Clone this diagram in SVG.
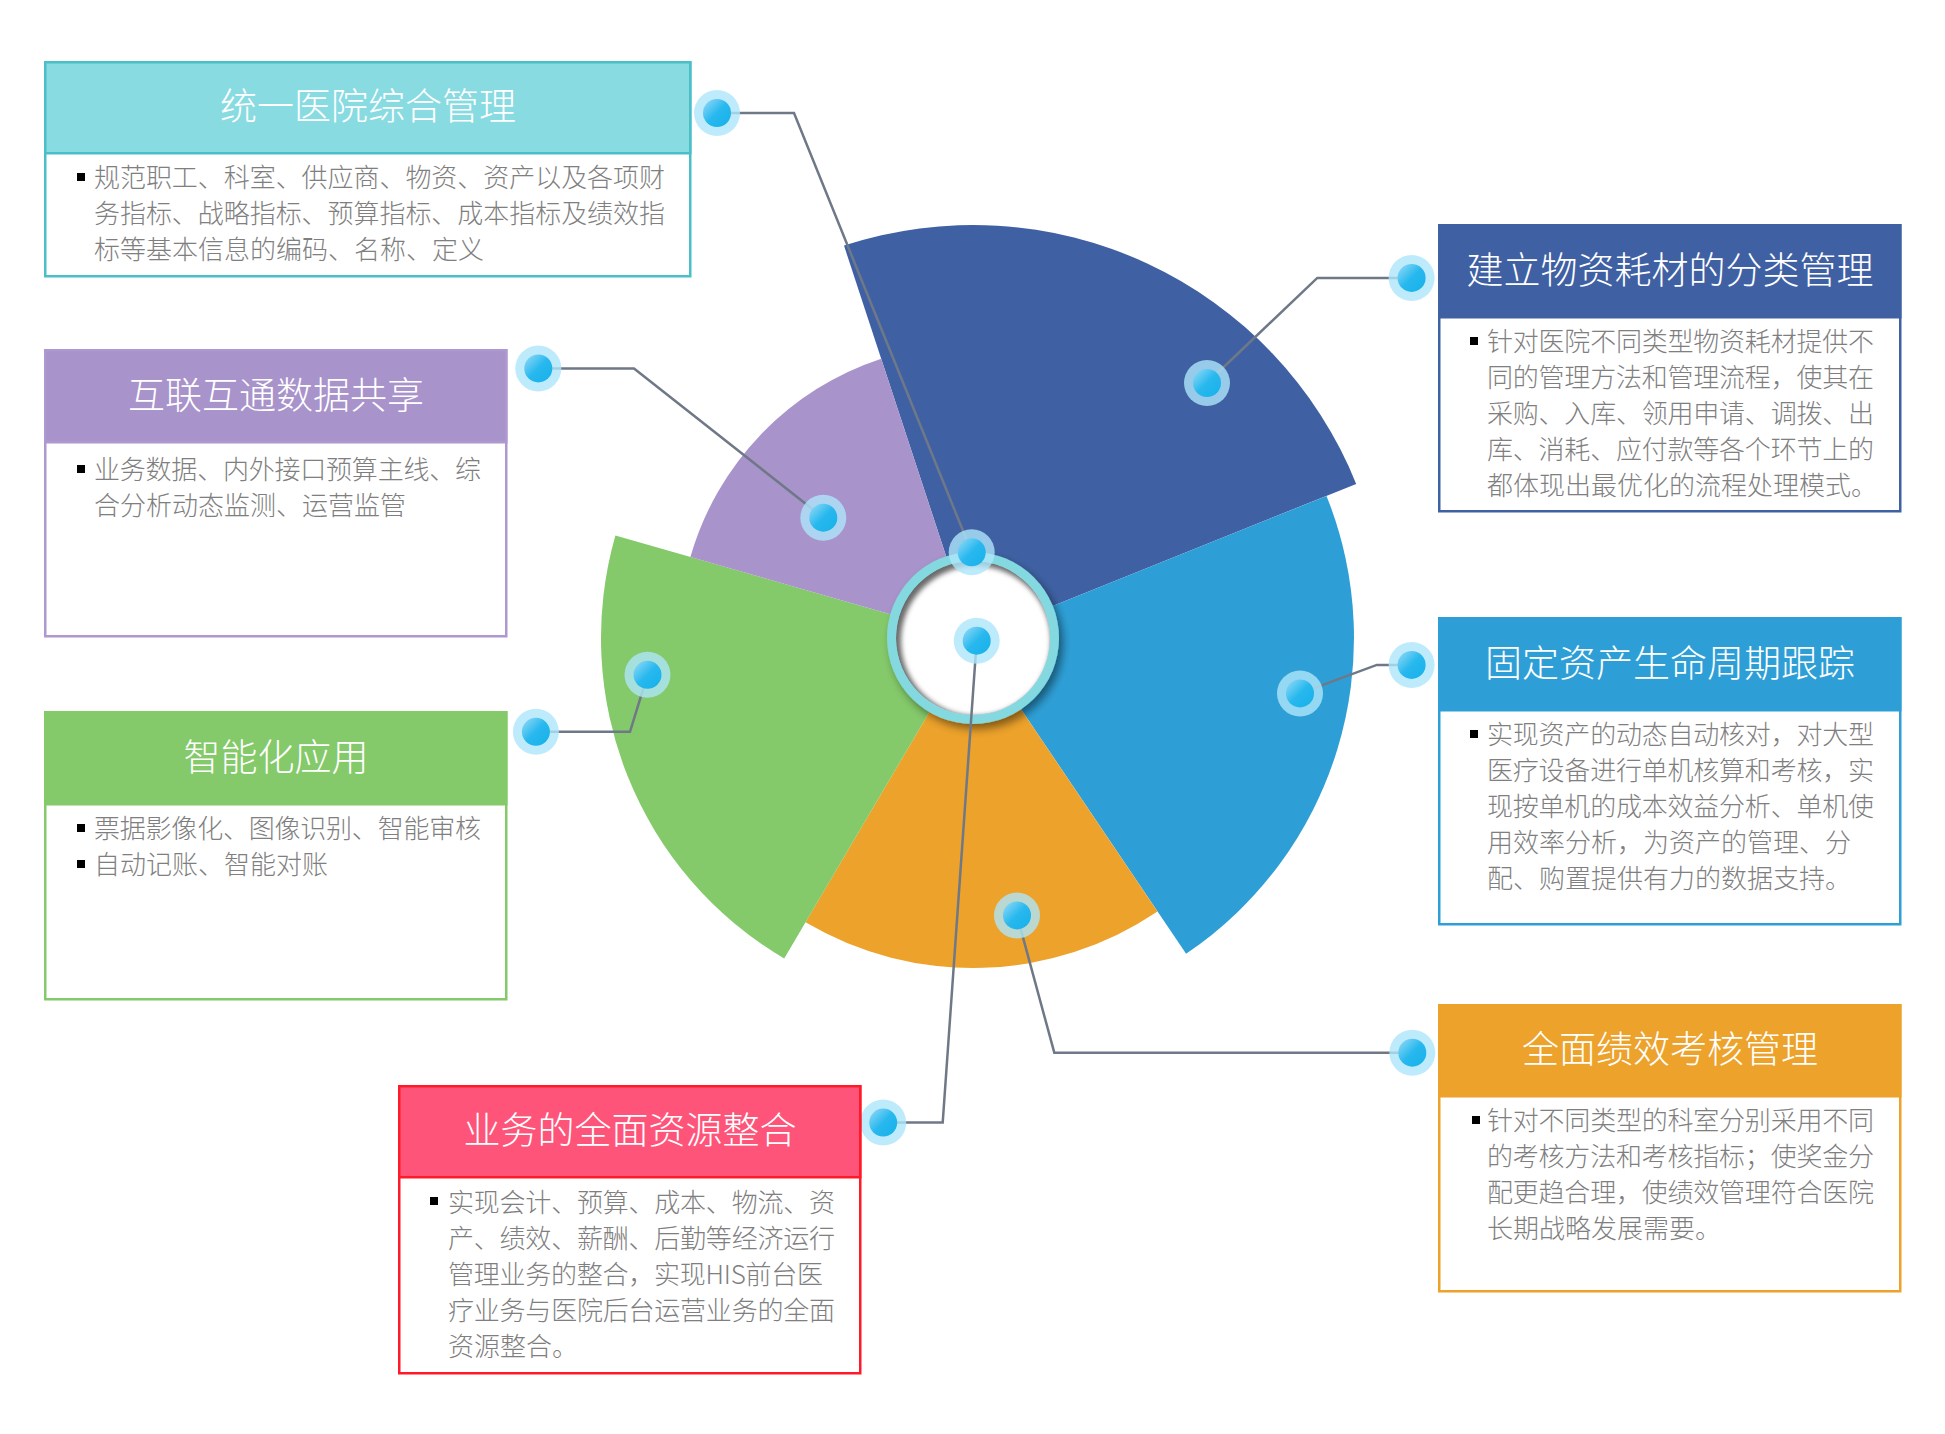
<svg xmlns="http://www.w3.org/2000/svg" xmlns:xlink="http://www.w3.org/1999/xlink" width="1945" height="1434" viewBox="0 0 1945 1434">
<defs>
<style>
.title{font-family:'Noto Sans CJK SC','Noto Sans',sans-serif;font-size:37px;fill:#ffffff;text-anchor:middle;font-weight:300}
.body{font-family:'Noto Sans CJK SC','Noto Sans',sans-serif;font-size:26px;fill:#7f7f7f;font-weight:300}
.conn{fill:none;stroke:#6f7887;stroke-width:2.5;stroke-linejoin:miter}
.bul{fill:#000000}
</style>
<linearGradient id="dotGrad" x1="0" y1="0" x2="1" y2="1">
<stop offset="0" stop-color="#9adcf7"/>
<stop offset="0.5" stop-color="#27b8ee"/>
<stop offset="1" stop-color="#16b0ea"/>
</linearGradient>
<g id="dot">
<circle r="23" fill="#aee6fa" fill-opacity="0.8"/>
<circle r="14" fill="url(#dotGrad)"/>
</g>
<filter id="ringShadow" x="-30%" y="-30%" width="160%" height="160%">
<feDropShadow dx="4" dy="5" stdDeviation="4" flood-color="#000000" flood-opacity="0.45"/>
</filter>
<filter id="blur2" x="-20%" y="-20%" width="140%" height="140%">
<feGaussianBlur stdDeviation="2.5"/>
</filter>
<clipPath id="innerClip"><circle cx="973" cy="638" r="77"/></clipPath>
</defs>
<rect width="1945" height="1434" fill="#ffffff"/>

<g id="sectors">
<path d="M973,638 L844,245.6 A413,413 0 0 1 1356.2,483.9 Z" fill="#3f61a3"/>
<path d="M973,638 L1326.5,495.9 A381,381 0 0 1 1186.1,953.8 Z" fill="#2e9fd6"/>
<path d="M973,638 L1157.5,911.6 A330,330 0 0 1 805.5,922.3 Z" fill="#eca22b"/>
<path d="M973,638 L784.2,958.5 A372,372 0 0 1 615.4,535.5 Z" fill="#84c96a"/>
<path d="M973,638 L690.4,557 A294,294 0 0 1 881.2,358.7 Z" fill="#a893cb"/>
</g>

<g id="hub">
<g filter="url(#ringShadow)">
<circle cx="973" cy="638" r="86" fill="#84d9e0"/>
</g>
<g clip-path="url(#innerClip)">
<circle cx="973" cy="638" r="77" fill="#6a6a6a"/>
<circle cx="976" cy="641" r="75" fill="#ffffff" filter="url(#blur2)"/>
</g>
</g>

<g id="connectors">
<polyline class="conn" points="717,113 794,113 971.7,552.3"/>
<polyline class="conn" points="538.3,368.4 634,368.4 823.3,517.7"/>
<polyline class="conn" points="535.9,731.8 630,731.8 647.5,674.8"/>
<polyline class="conn" points="883.2,1122.6 942.7,1122.6 976.7,640.7"/>
<polyline class="conn" points="1411.6,277.9 1317.3,277.9 1207,383"/>
<polyline class="conn" points="1411.6,664.9 1376.8,664.9 1300,693.4"/>
<polyline class="conn" points="1412.3,1052.7 1054.3,1052.7 1017,915.4"/>
</g>

<g id="dots">
<use xlink:href="#dot" href="#dot" x="717" y="113"/>
<use xlink:href="#dot" href="#dot" x="538.3" y="368.4"/>
<use xlink:href="#dot" href="#dot" x="535.9" y="731.8"/>
<use xlink:href="#dot" href="#dot" x="883.2" y="1122.6"/>
<use xlink:href="#dot" href="#dot" x="1411.6" y="277.9"/>
<use xlink:href="#dot" href="#dot" x="1411.6" y="664.9"/>
<use xlink:href="#dot" href="#dot" x="1412.3" y="1052.7"/>
<use xlink:href="#dot" href="#dot" x="1207" y="383"/>
<use xlink:href="#dot" href="#dot" x="823.3" y="517.7"/>
<use xlink:href="#dot" href="#dot" x="647.5" y="674.8"/>
<use xlink:href="#dot" href="#dot" x="1300" y="693.4"/>
<use xlink:href="#dot" href="#dot" x="1017" y="915.4"/>
<use xlink:href="#dot" href="#dot" x="971.7" y="552.3"/>
<use xlink:href="#dot" href="#dot" x="976.7" y="640.7"/>
</g>

<g id="box1">
<rect x="45.25" y="62.25" width="645" height="214" fill="#ffffff" stroke="#4bbfc7" stroke-width="2.5"/>
<rect x="45.25" y="62.25" width="645" height="91" fill="#89dbe2" stroke="#4bbfc7" stroke-width="2.5"/>
<text class="title" x="368" y="120">统一医院综合管理</text>
<rect class="bul" x="77" y="173" width="8" height="8"/>
<text class="body" x="94" y="187" textLength="571" lengthAdjust="spacing">规范职工、科室、供应商、物资、资产以及各项财</text>
<text class="body" x="94" y="223" textLength="571" lengthAdjust="spacing">务指标、战略指标、预算指标、成本指标及绩效指</text>
<text class="body" x="94" y="259">标等基本信息的编码、名称、定义</text>
</g>

<g id="box2">
<rect x="45.25" y="350.25" width="461" height="286" fill="#ffffff" stroke="#ad98d0" stroke-width="2.5"/>
<rect x="45.25" y="350.25" width="461" height="92" fill="#a893cb" stroke="#ad98d0" stroke-width="2.5"/>
<text class="title" x="276" y="409">互联互通数据共享</text>
<rect class="bul" x="77" y="465" width="8" height="8"/>
<text class="body" x="94" y="478.5" textLength="387" lengthAdjust="spacing">业务数据、内外接口预算主线、综</text>
<text class="body" x="94" y="514.5">合分析动态监测、运营监管</text>
</g>

<g id="box3">
<rect x="45.25" y="712.25" width="461" height="287" fill="#ffffff" stroke="#84c96a" stroke-width="2.5"/>
<rect x="45.25" y="712.25" width="461" height="92" fill="#84c96a" stroke="#84c96a" stroke-width="2.5"/>
<text class="title" x="276" y="771">智能化应用</text>
<rect class="bul" x="77" y="824" width="8" height="8"/>
<text class="body" x="94" y="838" textLength="387" lengthAdjust="spacing">票据影像化、图像识别、智能审核</text>
<rect class="bul" x="77" y="860" width="8" height="8"/>
<text class="body" x="94" y="874">自动记账、智能对账</text>
</g>

<g id="box4">
<rect x="399.25" y="1086.25" width="461" height="287" fill="#ffffff" stroke="#ff1a2a" stroke-width="2.5"/>
<rect x="399.25" y="1086.25" width="461" height="91" fill="#ff5479" stroke="#ff1a2a" stroke-width="2.5"/>
<text class="title" x="630" y="1144">业务的全面资源整合</text>
<rect class="bul" x="430" y="1197" width="8" height="8"/>
<text class="body" x="448" y="1211.5" textLength="387" lengthAdjust="spacing">实现会计、预算、成本、物流、资</text>
<text class="body" x="448" y="1247.5" textLength="387" lengthAdjust="spacing">产、绩效、薪酬、后勤等经济运行</text>
<text class="body" x="448" y="1283.5" textLength="375" lengthAdjust="spacing">管理业务的整合，实现HIS前台医</text>
<text class="body" x="448" y="1319.5" textLength="387" lengthAdjust="spacing">疗业务与医院后台运营业务的全面</text>
<text class="body" x="448" y="1355.5">资源整合。</text>
</g>

<g id="box5">
<rect x="1439.25" y="225.25" width="461" height="286" fill="#ffffff" stroke="#3f61a3" stroke-width="2.5"/>
<rect x="1439.25" y="225.25" width="461" height="92" fill="#3f61a3" stroke="#3f61a3" stroke-width="2.5"/>
<text class="title" x="1670" y="284">建立物资耗材的分类管理</text>
<rect class="bul" x="1470" y="337" width="8" height="8"/>
<text class="body" x="1487" y="350.5" textLength="387" lengthAdjust="spacing">针对医院不同类型物资耗材提供不</text>
<text class="body" x="1487" y="386.5" textLength="387" lengthAdjust="spacing">同的管理方法和管理流程，使其在</text>
<text class="body" x="1487" y="422.5" textLength="387" lengthAdjust="spacing">采购、入库、领用申请、调拨、出</text>
<text class="body" x="1487" y="458.5" textLength="387" lengthAdjust="spacing">库、消耗、应付款等各个环节上的</text>
<text class="body" x="1487" y="494.5">都体现出最优化的流程处理模式。</text>
</g>

<g id="box6">
<rect x="1439.25" y="618.25" width="461" height="306" fill="#ffffff" stroke="#2e9fd6" stroke-width="2.5"/>
<rect x="1439.25" y="618.25" width="461" height="92" fill="#2e9fd6" stroke="#2e9fd6" stroke-width="2.5"/>
<text class="title" x="1670" y="677">固定资产生命周期跟踪</text>
<rect class="bul" x="1470" y="730" width="8" height="8"/>
<text class="body" x="1487" y="743.5" textLength="387" lengthAdjust="spacing">实现资产的动态自动核对，对大型</text>
<text class="body" x="1487" y="779.5" textLength="387" lengthAdjust="spacing">医疗设备进行单机核算和考核，实</text>
<text class="body" x="1487" y="815.5" textLength="387" lengthAdjust="spacing">现按单机的成本效益分析、单机使</text>
<text class="body" x="1487" y="851.5">用效率分析，为资产的管理、分</text>
<text class="body" x="1487" y="887.5">配、购置提供有力的数据支持。</text>
</g>

<g id="box7">
<rect x="1439.25" y="1005.25" width="461" height="286" fill="#ffffff" stroke="#eca22b" stroke-width="2.5"/>
<rect x="1439.25" y="1005.25" width="461" height="91" fill="#eca22b" stroke="#eca22b" stroke-width="2.5"/>
<text class="title" x="1670" y="1063">全面绩效考核管理</text>
<rect class="bul" x="1472" y="1116" width="8" height="8"/>
<text class="body" x="1487" y="1129.5" textLength="387" lengthAdjust="spacing">针对不同类型的科室分别采用不同</text>
<text class="body" x="1487" y="1165.5" textLength="387" lengthAdjust="spacing">的考核方法和考核指标；使奖金分</text>
<text class="body" x="1487" y="1201.5" textLength="387" lengthAdjust="spacing">配更趋合理，使绩效管理符合医院</text>
<text class="body" x="1487" y="1237.5">长期战略发展需要。</text>
</g>
</svg>
